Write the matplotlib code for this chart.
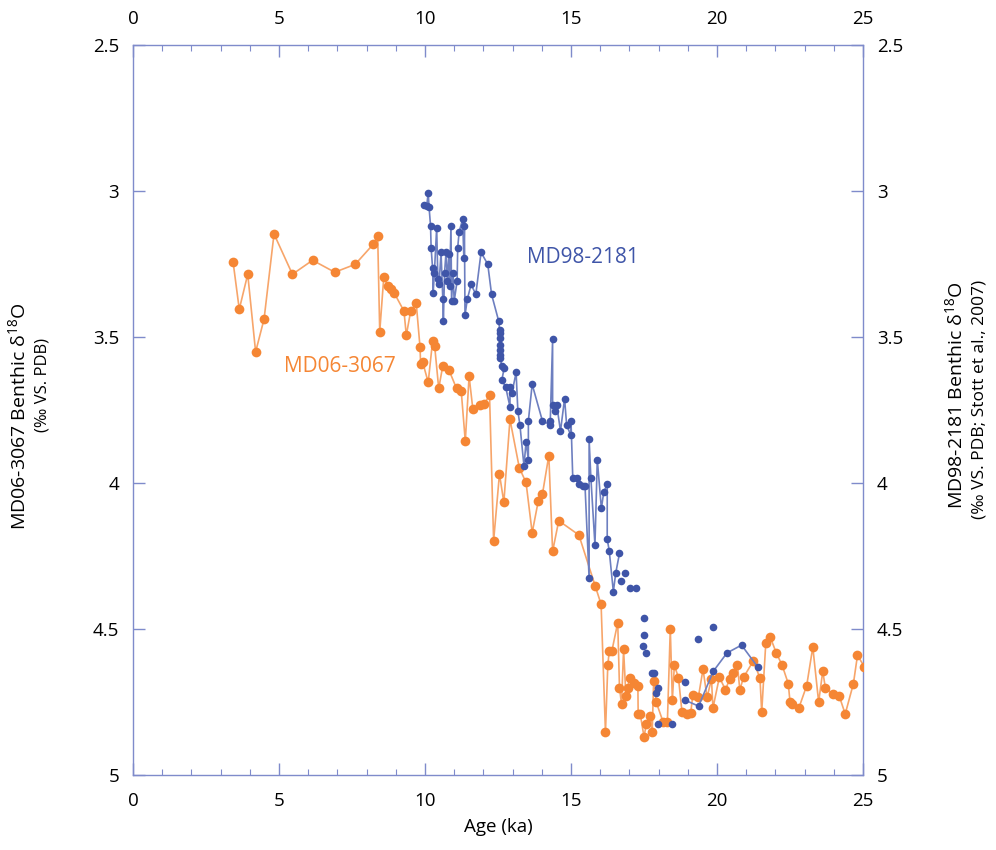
import matplotlib
matplotlib.use("Agg")
import matplotlib.pyplot as plt
import numpy as np
from matplotlib.ticker import MultipleLocator

plt.rcParams['font.family'] = ['Open Sans', 'DejaVu Sans']
plt.rcParams['mathtext.fontset'] = 'custom'
plt.rcParams['mathtext.rm'] = 'Open Sans'
plt.rcParams['mathtext.it'] = 'Open Sans'

# MD06-3067 (orange)
md06_age = [3.43, 3.64, 3.93, 4.20, 4.49, 4.83, 5.46, 6.15, 6.91, 7.61, 8.23, 8.38, 8.45, 8.59,
            8.72, 8.82, 8.94, 9.28, 9.36, 9.51, 9.70, 9.83, 9.85, 9.92, 10.11, 10.26, 10.33,
            10.47, 10.61, 10.82, 11.08, 11.24, 11.38, 11.51, 11.64, 11.88, 12.02, 12.21, 12.35,
            12.55, 12.70, 12.91, 13.23, 13.46, 13.67, 13.88, 14.02, 14.24, 14.37, 14.58, 15.27,
            15.83, 16.03, 16.18, 16.26, 16.31, 16.40, 16.60, 16.66, 16.73, 16.80, 16.88, 16.94,
            17.01, 17.16, 17.29, 17.30, 17.37, 17.50, 17.58, 17.71, 17.78, 17.83, 17.92, 18.16,
            18.30, 18.40, 18.47, 18.54, 18.68, 18.80, 18.96, 19.10, 19.17, 19.36, 19.52, 19.66,
            19.81, 19.86, 20.08, 20.29, 20.43, 20.56, 20.70, 20.78, 20.91, 21.24, 21.47, 21.53,
            21.67, 21.82, 22.03, 22.23, 22.44, 22.50, 22.58, 22.80, 23.07, 23.28, 23.48, 23.62,
            23.71, 23.97, 24.18, 24.39, 24.67, 24.81, 25.05]
md06_d18o = [3.244, 3.405, 3.285, 3.551, 3.438, 3.147, 3.285, 3.237, 3.278, 3.251, 3.182, 3.154,
             3.482, 3.293, 3.325, 3.337, 3.348, 3.411, 3.494, 3.411, 3.384, 3.535, 3.591, 3.586,
             3.655, 3.514, 3.530, 3.676, 3.598, 3.613, 3.676, 3.684, 3.857, 3.634, 3.748, 3.733,
             3.731, 3.699, 4.198, 3.969, 4.066, 3.782, 3.948, 3.998, 4.170, 4.061, 4.039, 3.906,
             4.234, 4.129, 4.178, 4.353, 4.415, 4.854, 4.624, 4.575, 4.575, 4.478, 4.701, 4.757,
             4.570, 4.729, 4.701, 4.667, 4.686, 4.694, 4.791, 4.791, 4.869, 4.825, 4.798, 4.854,
             4.677, 4.751, 4.820, 4.820, 4.499, 4.743, 4.624, 4.667, 4.784, 4.791, 4.787, 4.725,
             4.734, 4.638, 4.734, 4.671, 4.771, 4.665, 4.708, 4.672, 4.652, 4.624, 4.708, 4.665,
             4.610, 4.667, 4.785, 4.548, 4.527, 4.582, 4.624, 4.687, 4.750, 4.757, 4.771, 4.694,
             4.562, 4.750, 4.645, 4.701, 4.723, 4.728, 4.791, 4.687, 4.590, 4.630]

# MD98-2181 (blue), connected part
md98_age = [9.98, 10.06, 10.11, 10.14, 10.19, 10.21, 10.26, 10.28, 10.32, 10.40, 10.44, 10.48,
            10.55, 10.61, 10.63, 10.67, 10.72, 10.77, 10.82, 10.84, 10.89, 10.91, 10.96, 11.00,
            11.10, 11.12, 11.17, 11.29, 11.33, 11.35, 11.37, 11.45, 11.58, 11.74, 11.92, 12.15,
            12.28, 12.52, 12.56, 12.56, 12.57, 12.57, 12.57, 12.58, 12.58, 12.63, 12.71, 12.63,
            12.76, 12.91, 12.91, 12.98, 13.12, 13.18, 13.25, 13.39, 13.46, 13.54, 13.54, 13.67,
            14.02, 14.29, 14.29, 14.37, 14.37, 14.44, 14.51, 14.64, 14.78, 14.85, 14.99, 15.00,
            15.06, 15.19, 15.26, 15.40, 15.48, 15.62, 15.62, 15.68, 15.82, 15.90, 16.04, 16.12,
            16.24, 16.24, 16.31, 16.45, 16.53, 16.66]
md98_d18o = [3.048, 3.050, 3.006, 3.056, 3.119, 3.194, 3.265, 3.348, 3.282, 3.126, 3.300, 3.320,
             3.210, 3.370, 3.445, 3.280, 3.210, 3.308, 3.216, 3.324, 3.119, 3.377, 3.280, 3.377,
             3.308, 3.194, 3.139, 3.097, 3.228, 3.119, 3.425, 3.370, 3.320, 3.354, 3.210, 3.251,
             3.354, 3.444, 3.476, 3.487, 3.504, 3.527, 3.545, 3.562, 3.573, 3.599, 3.607, 3.648,
             3.670, 3.739, 3.670, 3.691, 3.621, 3.753, 3.801, 3.942, 3.859, 3.920, 3.787, 3.662,
             3.787, 3.801, 3.787, 3.508, 3.732, 3.752, 3.732, 3.822, 3.711, 3.801, 3.836, 3.787,
             3.982, 3.982, 4.003, 4.010, 4.010, 4.326, 3.850, 3.982, 4.212, 3.920, 4.087, 4.032,
             4.003, 4.192, 4.233, 4.372, 4.309, 4.241]

# MD98-2181, unconnected points
md98_dot_age = [16.70, 16.84, 17.01, 17.21, 17.51, 17.51, 17.48, 17.58, 17.76, 17.84, 17.99,
                17.92, 17.99, 18.47, 18.89, 19.36, 19.86]
md98_dot_d18o = [4.335, 4.309, 4.359, 4.359, 4.463, 4.519, 4.557, 4.582, 4.652, 4.652, 4.701,
                 4.720, 4.825, 4.825, 4.680, 4.533, 4.492]

# MD98-2181, connected tail
md98_tail_age = [18.89, 19.37, 19.87, 20.34, 20.84, 21.40]
md98_tail_d18o = [4.743, 4.764, 4.645, 4.582, 4.555, 4.631]

x_ticks = [0, 5, 10, 15, 20, 25]
y_ticks = [2.5, 3.0, 3.5, 4.0, 4.5, 5.0]
y_tick_labels = ['2.5', '3', '3.5', '4', '4.5', '5']

orange = '#F58634'
orange_line = '#F7A56A'
blue = '#3F55A8'
blue_line = '#6D7FC0'
axis_col = '#7F8BCB'

fig = plt.figure(figsize=(9.96, 8.5), dpi=100)
ax = fig.add_axes([0.1335, 0.0882, 0.733, 0.8588])

ax.plot(md06_age, md06_d18o, '-', color=orange_line, lw=1.2, zorder=2)
ax.plot(md06_age, md06_d18o, 'o', color=orange, ms=7, mec='none', zorder=3)

ax.plot(md98_age, md98_d18o, '-', color=blue_line, lw=1.2, zorder=4)
ax.plot(md98_age, md98_d18o, 'o', color=blue, ms=5.5, mec='none', zorder=5)
ax.plot(md98_dot_age, md98_dot_d18o, 'o', color=blue, ms=5.5, mec='none', zorder=5)
ax.plot(md98_tail_age, md98_tail_d18o, '-', color=blue_line, lw=1.2, zorder=4)
ax.plot(md98_tail_age, md98_tail_d18o, 'o', color=blue, ms=5.5, mec='none', zorder=5)

ax.set_xlim(0, 25)
ax.set_ylim(5, 2.5)
ax.set_xticks(x_ticks)
ax.xaxis.set_minor_locator(MultipleLocator(1))
ax.set_yticks(y_ticks)
ax.set_yticklabels(y_tick_labels)

for s in ax.spines.values():
    s.set_color(axis_col)
    s.set_linewidth(1.0)

ax.tick_params(axis='both', which='both', direction='in', colors=axis_col,
               labelcolor='black', labelsize=13.5, top=True, right=True,
               labeltop=True, labelright=True)
ax.tick_params(axis='x', which='major', length=8.5, width=1.0, pad=12)
ax.tick_params(axis='y', which='major', length=8.5, width=1.0, pad=10)
ax.tick_params(axis='x', which='minor', length=4.3, width=0.8)

ax.set_xlabel('Age (ka)', fontsize=13.5, labelpad=6)

ax.text(7.1, 3.602, 'MD06-3067', color=orange, fontsize=15, ha='center', va='center')
ax.text(13.5, 3.226, 'MD98-2181', color=blue, fontsize=15, ha='left', va='center')

fig.text(0.018, 0.51, r'MD06-3067 Benthic $\mathregular{\delta^{18}}$O', rotation=90,
         fontsize=14, ha='center', va='center')
fig.text(0.043, 0.547, '(‰ VS. PDB)', rotation=90, fontsize=12, ha='center', va='center')
fig.text(0.959, 0.535, r'MD98-2181 Benthic $\mathregular{\delta^{18}}$O', rotation=90,
         fontsize=14, ha='center', va='center')
fig.text(0.983, 0.53, '(‰ VS. PDB; Stott et al., 2007)', rotation=90, fontsize=12.5,
         ha='center', va='center')

fig.savefig('out.png', dpi=100)
